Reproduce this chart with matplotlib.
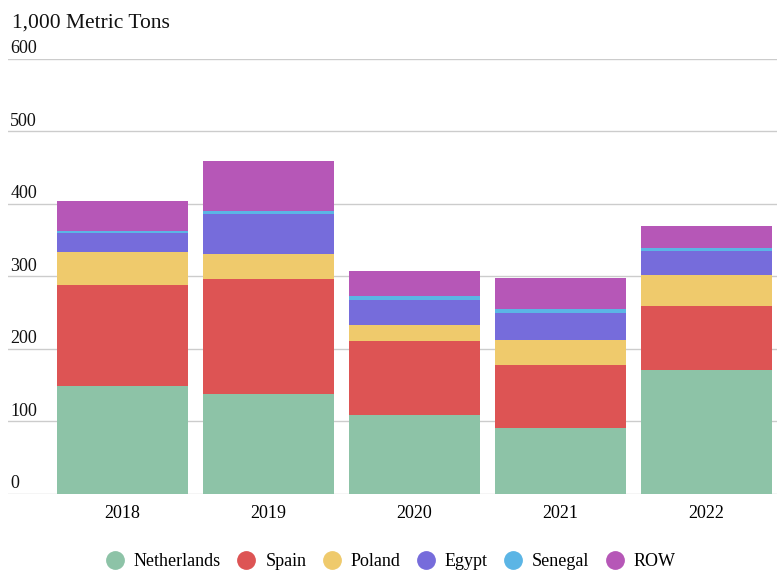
import matplotlib
matplotlib.use("Agg")
from matplotlib import pyplot as plt
from matplotlib.lines import Line2D
import matplotlib.transforms as mtransforms
import numpy as np

years = ["2018", "2019", "2020", "2021", "2022"]
netherlands = [148, 137, 108, 91, 171]
spain = [140, 159, 102, 86, 88]
poland = [45, 34, 23, 35, 42]
egypt = [26, 56, 34, 37, 34]
senegal = [3, 4.5, 5, 6, 4.5]
row = [41, 68, 35, 43, 30]

series = [
    ("Netherlands", netherlands, "#8DC3A7"),
    ("Spain", spain, "#DD5454"),
    ("Poland", poland, "#EFCA6C"),
    ("Egypt", egypt, "#766CDB"),
    ("Senegal", senegal, "#5BB5E5"),
    ("ROW", row, "#B657B7"),
]
yticks = [0, 100, 200, 300, 400, 500, 600]

plt.rcParams["font.family"] = ["Liberation Serif", "DejaVu Serif"]

fig = plt.figure(figsize=(7.77, 5.71), dpi=100)
ax = fig.add_axes([8 / 777, 1 - 494.3 / 571, 769 / 777, (494.3 - 58.7) / 571])

x = np.arange(len(years))
bottom = np.zeros(len(years))
for name, vals, color in series:
    ax.bar(x, vals, width=0.9, bottom=bottom, color=color, zorder=3,
           linewidth=0)
    bottom += np.array(vals)

ax.set_xlim(-0.784, 4.483)
ax.set_ylim(-1, 600)
ax.set_yticks(yticks)
ax.yaxis.grid(True, color="#cccccc", linewidth=1, zorder=0)
ax.tick_params(axis="y", length=0, labelleft=False)
ax.tick_params(axis="x", length=0, labelsize=13, pad=8)
ax.set_xticks(x)
ax.set_xticklabels(years)
for s in ax.spines.values():
    s.set_visible(False)

trans = mtransforms.blended_transform_factory(ax.transAxes, ax.transData)
for t in yticks:
    ax.text(0.003, t + 2, str(t), transform=trans, fontsize=13,
            ha="left", va="bottom", color="#111111")

fig.text(12 / 777, 1 - 28 / 571, "1,000 Metric Tons", fontsize=15.5,
         ha="left", va="baseline", color="#111111")

handles = [Line2D([], [], marker="o", linestyle="", markersize=12.5,
                  markerfacecolor=c, markeredgecolor=c) for _, _, c in series]
fig.legend(handles, [n for n, _, _ in series], loc="center",
           bbox_to_anchor=(0.5, 1 - 562 / 571), ncol=6, frameon=False,
           fontsize=13, handletextpad=0.3, columnspacing=0.65,
           handlelength=1.5)

fig.savefig("out.png", dpi=100)
